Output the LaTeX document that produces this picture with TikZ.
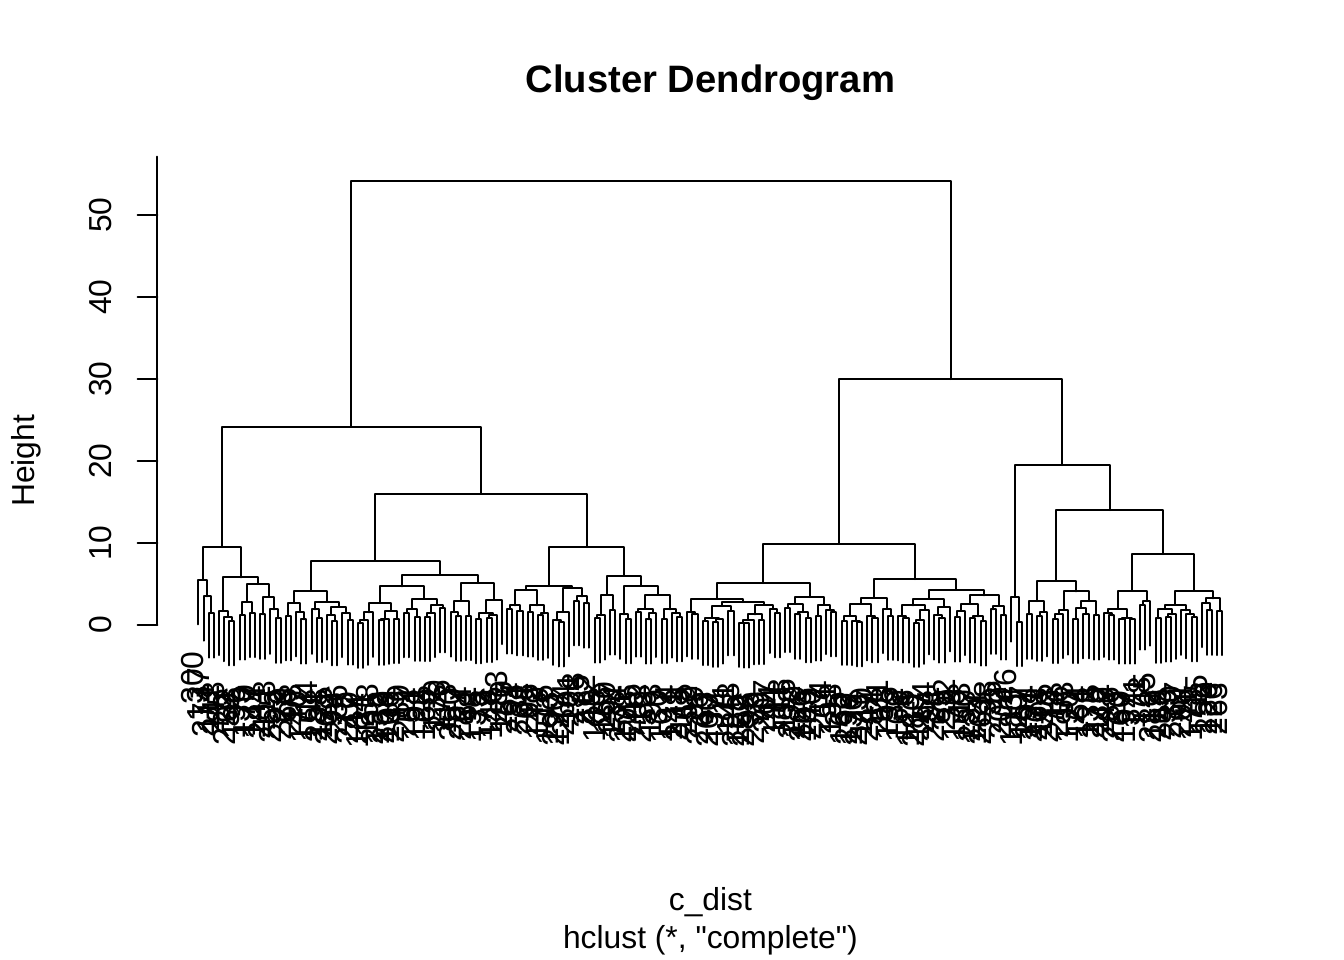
\documentclass[tikz,border=0pt]{standalone}
\usepackage{fontspec}
\setmainfont{Liberation Sans}
\newfontfamily\rplain{Liberation Sans}
\newcount\leafno
\newcount\labc
\newcount\labq
\def\hang{5.42}
\newcommand\rfont{\fontsize{31.8}{38}\selectfont}
\newcommand\rtfont{\fontsize{38.2}{46}\selectfont\bfseries}
% leaf
\newcommand\Lf{%
  \pgfmathsetmacro\tmpx{198.4+5.1457*\the\leafno}%
  \xdef\gx{\tmpx}%
  \labc=\numexpr 137*\leafno+299\relax
  \labq=\labc \divide\labq by 300 \multiply\labq by 300
  \advance\labc by -\labq \advance\labc by 1
  \xdef\glab{\the\labc}%
  \gdef\gleaf{1}\gdef\gh{0}%
  \global\advance\leafno by 1\relax}
\newcommand\leaflab[3]{\node[lab] at ({#1+6},{625-8.2*(#2)+27}) {#3};}
% merge: height, left, right
\newcommand\Mg[3]{%
  \begingroup
  #2%
  \let\lx\gx \let\lh\gh \let\lleaf\gleaf \let\llab\glab
  #3%
  \let\rx\gx \let\rh\gh \let\rleaf\gleaf \let\rlab\glab
  \ifnum\lleaf=1 \pgfmathsetmacro\lb{#1-\hang}\leaflab{\lx}{\lb}{\llab}\else\let\lb\lh\fi
  \ifnum\rleaf=1 \pgfmathsetmacro\rb{#1-\hang}\leaflab{\rx}{\rb}{\rlab}\else\let\rb\rh\fi
  \draw[dline] (\lx,{625-8.2*(\lb)}) -- (\lx,{625-8.2*#1}) -- (\rx,{625-8.2*#1}) -- (\rx,{625-8.2*(\rb)});
  \pgfmathsetmacro\mx{(\lx+\rx)/2}%
  \xdef\gx{\mx}\xdef\gh{#1}\gdef\gleaf{0}%
  \endgroup}
% generated small cluster: n leaves, height
\newcommand\Gn[2]{%
  \ifnum#1=1 \def\gnext{\Lf}%
  \else\ifnum#1=2 \def\gnext{\Mg{#2}{\Lf}{\Lf}}%
  \else
    \pgfmathsetmacro\gr{rnd}%
    \pgfmathtruncatemacro\gna{round(#1*(0.3+0.4*\gr))}%
    \pgfmathtruncatemacro\gna{max(1,min(#1-1,\gna))}%
    \pgfmathtruncatemacro\gnb{#1-\gna}%
    \pgfmathsetmacro\gha{#2*(0.35+0.5*rnd)}%
    \pgfmathsetmacro\ghb{#2*(0.35+0.5*rnd)}%
    \edef\gnext{\noexpand\Mg{#2}{\noexpand\Gn{\gna}{\gha}}{\noexpand\Gn{\gnb}{\ghb}}}%
  \fi\fi
  \gnext}
% subtrees
\newcommand\cAone{\Mg{9.5}%
 {\Mg{5.5}{\Lf}{\Mg{3.5}{\Lf}{\Mg{1.45}{\Lf}{\Lf}}}}%
 {\Mg{5.8}%
   {\Mg{1.75}{\Lf}{\Mg{1.0}{\Lf}{\Mg{0.5}{\Lf}{\Lf}}}}%
   {\Mg{5.0}%
     {\Mg{2.85}{\Mg{1.2}{\Lf}{\Lf}}{\Mg{1.5}{\Lf}{\Lf}}}%
     {\Mg{3.45}{\Mg{1.3}{\Lf}{\Lf}}{\Mg{1.9}{\Lf}{\Mg{0.8}{\Lf}{\Lf}}}}%
   }%
 }}
\newcommand\cAtwoL{\Mg{7.85}%
 {\Mg{4.2}%
   {\Mg{2.7}{\Mg{1.1}{\Lf}{\Lf}}{\Mg{1.6}{\Lf}{\Mg{0.7}{\Lf}{\Lf}}}}%
   {\Mg{2.85}{\Mg{1.9}{\Lf}{\Mg{0.9}{\Lf}{\Lf}}}{\Mg{2.2}{\Mg{1.2}{\Lf}{\Mg{0.5}{\Lf}{\Lf}}}{\Mg{1.5}{\Lf}{\Mg{0.6}{\Lf}{\Lf}}}}}%
 }%
 {\Mg{6.1}%
   {\Mg{4.7}{\Gn{9}{2.7}}{\Gn{9}{3.2}}}%
   {\Mg{5.1}{\Gn{5}{2.9}}{\Mg{3.1}{\Gn{5}{1.5}}{\Lf}}}%
 }}
\newcommand\cAtwoR{\Mg{9.5}%
 {\Mg{4.8}{\Mg{4.3}{\Gn{4}{2.4}}{\Gn{5}{2.4}}}{\Mg{4.5}{\Gn{4}{1.6}}{\Gn{4}{3.5}}}}%
 {\Mg{6.0}{\Mg{3.7}{\Gn{3}{1.2}}{\Gn{2}{1.8}}}{\Mg{4.8}{\Gn{3}{1.3}}{\Mg{3.7}{\Gn{5}{2.0}}{\Gn{5}{1.9}}}}}}
\newcommand\cBone{\Mg{9.9}%
 {\Mg{5.1}%
   {\Mg{3.2}{\Gn{3}{1.6}}{\Mg{2.8}{\Gn{7}{2.3}}{\Gn{9}{2.5}}}}%
   {\Mg{3.4}{\Gn{6}{2.6}}{\Gn{5}{2.5}}}}%
 {\Mg{5.6}%
   {\Mg{3.3}{\Gn{8}{2.6}}{\Gn{3}{2.0}}}%
   {\Mg{4.3}{\Mg{3.2}{\Gn{7}{2.4}}{\Gn{4}{2.2}}}{\Mg{3.6}{\Gn{7}{2.6}}{\Gn{4}{2.3}}}}}}
\newcommand\cBtwo{\Mg{19.5}%
 {\Mg{3.4}{\Lf}{\Mg{0.4}{\Lf}{\Lf}}}%
 {\Mg{14.0}%
   {\Mg{5.4}{\Mg{2.9}{\Gn{2}{1.3}}{\Gn{3}{1.6}}}{\Mg{4.1}{\Gn{4}{1.8}}{\Gn{6}{2.9}}}}%
   {\Mg{8.65}{\Mg{4.2}{\Gn{7}{2.0}}{\Gn{3}{2.9}}}{\Mg{4.2}{\Gn{9}{2.5}}{\Gn{5}{3.25}}}}}}
\begin{document}
\begin{tikzpicture}[x=1pt,y=-1pt,
  dline/.style={line width=2pt,line cap=round,line join=round},
  aline/.style={line width=2pt,line cap=round},
  lab/.style={rotate=90,anchor=south east,inner sep=0pt,font=\rfont},
  txt/.style={inner sep=0pt,font=\rfont}]
\useasboundingbox (0,0) rectangle (1344,960);
\fill[white] (0,0) rectangle (1344,960);
\pgfmathsetseed{12}%
\global\leafno=0
% dendrogram
\Mg{54.2}{\Mg{24.2}{\cAone}{\Mg{16.0}{\cAtwoL}{\cAtwoR}}}{\Mg{30.0}{\cBone}{\cBtwo}}%
% axis
\draw[aline] (157.3,156.7) -- (157.3,625);
\foreach \v in {0,10,20,30,40,50}{%
  \draw[aline] (137.7,{625-8.2*\v}) -- (157.3,{625-8.2*\v});
  \node[txt,rotate=90,anchor=south] (t\v) at (111.7,{625-8.2*\v}) {\v};
}
\node[txt,rotate=90,anchor=base] (ylab) at (34.8,460.8) {Height};
\node[inner sep=0pt,font=\rtfont,anchor=base] (title) at (710.4,93) {Cluster Dendrogram};
\node[txt,anchor=base] (xlab) at (710.4,910) {c\_dist};
\node[txt,anchor=base] (sub) at (710.4,948) {\rplain hclust (*, "complete")};
\end{tikzpicture}
\end{document}
